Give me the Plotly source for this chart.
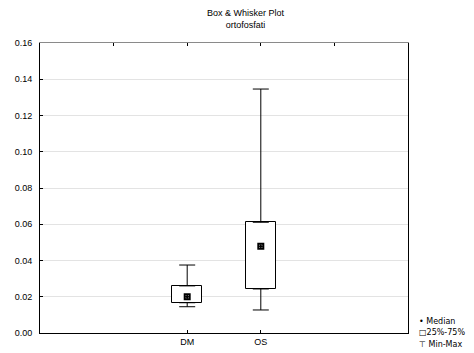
import plotly.graph_objects as go

# values (ortofosfati)
groups = ["DM", "OS"]
medians = [0.020, 0.0478]
q1 = [0.0167, 0.0243]
q3 = [0.026, 0.0611]
mins = [0.0145, 0.0127]
maxs = [0.0375, 0.1346]

y_ticks = [0.00, 0.02, 0.04, 0.06, 0.08, 0.10, 0.12, 0.14, 0.16]

font = dict(family="Liberation Sans, Arial, sans-serif", size=9, color="black")

fig = go.Figure()

# box 25%-75%
fig.add_trace(go.Bar(
    x=groups, y=[b - a for a, b in zip(q1, q3)], base=q1,
    width=0.41, marker=dict(color="white", line=dict(color="black", width=1)),
    showlegend=False, hoverinfo="skip",
))

# upper whisker (from q3 to max)
fig.add_trace(go.Scatter(
    x=groups, y=q3, mode="markers", marker=dict(size=1, color="rgba(0,0,0,0)"),
    error_y=dict(type="data", symmetric=False,
                 array=[m - q for m, q in zip(maxs, q3)], arrayminus=[0, 0],
                 color="black", thickness=1, width=8),
    showlegend=False, hoverinfo="skip",
))
# lower whisker (from q1 down to min)
fig.add_trace(go.Scatter(
    x=groups, y=q1, mode="markers", marker=dict(size=1, color="rgba(0,0,0,0)"),
    error_y=dict(type="data", symmetric=False,
                 array=[0, 0], arrayminus=[q - m for q, m in zip(q1, mins)],
                 color="black", thickness=1, width=8),
    showlegend=False, hoverinfo="skip",
))

# median marker
fig.add_trace(go.Scatter(
    x=groups, y=medians, mode="markers",
    marker=dict(symbol="square-open-dot", size=5, color="black", line=dict(width=2)),
    showlegend=False,
))

# dummy trace to drive the top axis with ticks
fig.add_trace(go.Scatter(x=[-2, 3], y=[None, None], xaxis="x2", showlegend=False, hoverinfo="skip"))

# page body has an 8px default margin, so the figure is a bit smaller
fig.update_layout(
    width=466, height=345,
    margin=dict(l=32, r=66, t=35, b=20),
    paper_bgcolor="white", plot_bgcolor="white",
    font=font,
    bargap=0,
    xaxis=dict(type="category", range=[-2, 3], showline=True, linecolor="black", linewidth=1,
               ticks="inside", ticklen=3, tickcolor="black", showgrid=False,
               tickfont=font, mirror=False, automargin=False),
    xaxis2=dict(overlaying="x", side="top", range=[-2, 3], dtick=1, tick0=0,
                showline=True, linecolor="#8a8a8a", linewidth=1,
                ticks="inside", ticklen=3, tickcolor="black",
                showticklabels=False, showgrid=False, zeroline=False, automargin=False),
    yaxis=dict(range=[0, 0.16], tickvals=y_ticks, tickformat=".2f",
               showline=True, linecolor="black", linewidth=1, mirror=True,
               ticks="inside", ticklen=3, tickcolor="black",
               showgrid=True, gridcolor="#e3e3e3", zeroline=False,
               tickfont=font, ticklabelstandoff=5, automargin=False),
)

# title, positioned in pixels converted to paper coords
fig.add_annotation(text="Box & Whisker Plot<br>ortofosfati", xref="paper", yref="paper",
                   x=(246 - 40) / 368, y=1 + 24 / 290, yanchor="middle", showarrow=False,
                   font=font)

# legend text (bottom right)
legend_items = ["• Median", "□25%-75%", "⊤ Min-Max"]
legend_font = dict(family="DejaVu Sans, Liberation Sans, sans-serif", size=8, color="black")
for i, t in enumerate(legend_items):
    fig.add_annotation(text=t, xref="paper", yref="paper", x=(417 - 40) / 368,
                       y=(333 - 321 - 11.5 * i) / 290, xanchor="left", yanchor="middle",
                       showarrow=False, font=legend_font)

fig.write_html("out.html")
